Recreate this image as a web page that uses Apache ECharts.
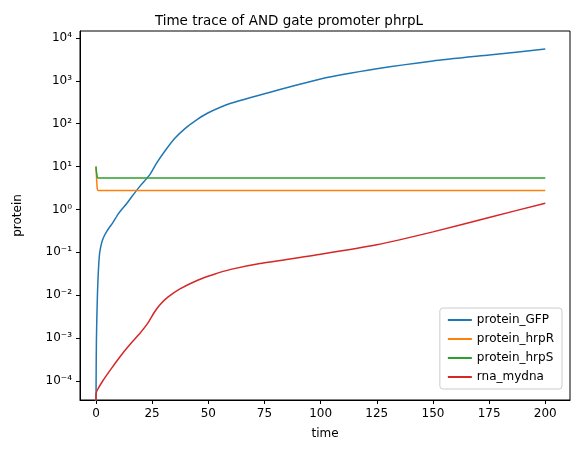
<!DOCTYPE html>
<html>
<head>
<meta charset="utf-8">
<script src="https://cdn.jsdelivr.net/npm/echarts@6/dist/echarts.min.js"></script>
<style>html,body{margin:0;padding:0;background:#fff}#main{width:578px;height:453px}</style>
</head>
<body>
<div id="main"></div>
<script>
// 各曲线数据 [time, value]
var gfp = [[0.02,3e-5],[0.1,2e-4],[0.2,8e-4],[0.4,3e-3],[0.7,0.012],[1,0.03],[1.4,0.07],[1.8,0.11],[3,0.2],[5,0.32],[7.6,0.5],[10,0.8],[13.8,1.4],[16,2],[19.6,3.5],[24,6.5],[27,12],[30.7,23],[35,45],[40,80],[45,125],[50,180],[60,300],[75,500],[100,1100],[125,1900],[150,2900],[175,4000],[200,5500]];
var hrpR = [[0,10],[0.3,5],[0.6,3],[1,2.75],[200,2.75]];
var hrpS = [[0,10],[0.3,7],[0.6,5.6],[1,5.4],[200,5.4]];
var rna = [[0,3e-5],[0.05,5e-5],[0.5,6e-5],[3,1e-4],[7,2e-4],[12,4.5e-4],[16,8e-4],[19.6,1.3e-3],[23,2.2e-3],[26,4e-3],[28.5,6e-3],[32,9e-3],[37.4,0.014],[45,0.022],[52,0.03],[60,0.04],[73,0.055],[100,0.09],[125,0.15],[150,0.3],[175,0.65],[200,1.4]];
var names = ['protein_GFP','protein_hrpR','protein_hrpS','rna_mydna'];
var colors = ['#1f77b4','#ff7f0e','#2ca02c','#d62728'];
var xTicks = [0,25,50,75,100,125,150,175,200];
var yTicks = [1e-4,1e-3,1e-2,1e-1,1,10,100,1e3,1e4];
var sup = {'-':'⁻','0':'⁰','1':'¹','2':'²','3':'³','4':'⁴','5':'⁵','6':'⁶','7':'⁷','8':'⁸','9':'⁹'};
var font = {fontFamily:'DejaVu Sans',fontSize:12,color:'#000'};

var myChart = echarts.init(document.getElementById('main'));
option = {
    animation:false,
    title:{text:'Time trace of AND gate promoter phrpL',left:'center',top:9,textStyle:{fontFamily:'DejaVu Sans',fontSize:13.5,fontWeight:'normal',color:'#000'}},
    grid:{left:80,right:8,top:31,bottom:53,show:true,borderColor:'#000',borderWidth:1},
    legend:{orient:'vertical',right:16,bottom:64,itemWidth:24,itemHeight:2,itemGap:7,
        backgroundColor:'#fff',borderColor:'#ccc',borderWidth:1,borderRadius:3,padding:[6,8],
        textStyle:font,
        data:names.map(function(n){return {name:n,icon:'rect'};})},
    xAxis:{type:'value',min:-7.1,max:211,name:'time',nameLocation:'middle',nameGap:28,
        nameTextStyle:font,
        axisLine:{onZero:false,lineStyle:{color:'#000'}},splitLine:{show:false},
        axisLabel:Object.assign({customValues:xTicks},font),
        axisTick:{customValues:xTicks,length:4,lineStyle:{color:'#000'}}},
    yAxis:{type:'log',logBase:10,min:3.6e-5,max:1.45e4,name:'protein',nameLocation:'middle',nameGap:56,
        nameTextStyle:font,
        axisLine:{show:true,onZero:false,lineStyle:{color:'#000'}},splitLine:{show:false},
        axisTick:{show:true,length:4,lineStyle:{color:'#000'},customValues:yTicks},
        axisLabel:Object.assign({customValues:yTicks,
            formatter:function(v){var e=String(Math.round(Math.log10(v)));return '10'+e.split('').map(function(c){return sup[c];}).join('');}},font)},
    series:[gfp,hrpR,hrpS,rna].map(function(d,i){
        return {name:names[i],type:'line',data:d,showSymbol:false,smooth:0.2,color:colors[i],lineStyle:{width:1.5}};
    })
};
myChart.setOption(option);
</script>
</body>
</html>
